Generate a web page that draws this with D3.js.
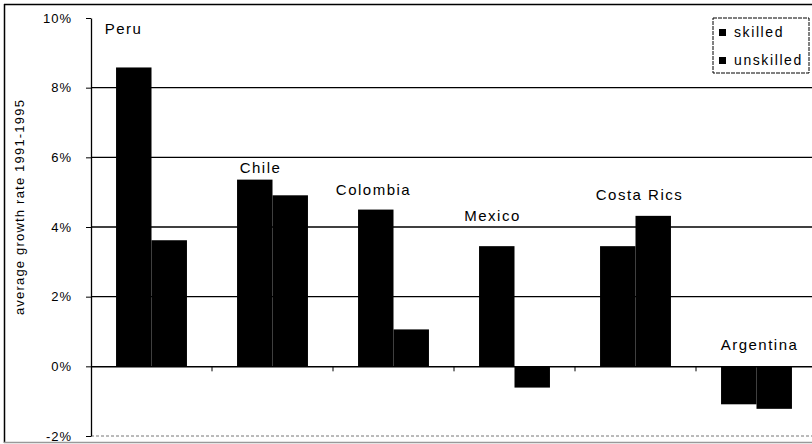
<!DOCTYPE html>
<html>
<head>
<meta charset="utf-8">
<script src="https://cdn.jsdelivr.net/npm/d3@7"></script>
<style>
  body { margin: 0; background: #fff; }
  svg { display: block; font-family: "Liberation Sans", Arial, sans-serif; }
  .axis path, .axis line { stroke: #000; }
  .axis text { fill: #000; font-size: 13px; letter-spacing: 1px; }
</style>
</head>
<body>
<svg id="chart"></svg>
<script>
// data (percent)
const categories = ["Peru", "Chile", "Colombia", "Mexico", "Costa Rics", "Argentina"];
const skilled = [8.58, 5.36, 4.50, 3.45, 3.45, -1.09];
const unskilled = [3.62, 4.91, 1.06, -0.61, 4.32, -1.22];
const seriesNames = ["skilled", "unskilled"];
const yTicks = [-2, 0, 2, 4, 6, 8, 10];

// where the country names sit: x offset from group centre (px), baseline in axis units
const labelDx = [-28, -12, -20, -22, 4, 3];
const labelAt = [9.54, 5.55, 4.91, 4.17, 4.77, 0.46];

const width = 812, height = 444;
const margin = {top: 18, left: 91, bottom: 8};
const plotRight = 817; // chart runs a little past the crop on the right

const svg = d3.select('#chart')
  .attr('width', width)
  .attr('height', height);

// outer frame
svg.append('line').attr('x1', 4).attr('x2', width).attr('y1', 4.5).attr('y2', 4.5)
  .attr('stroke', '#000').attr('stroke-width', 1.5);
svg.append('line').attr('x1', 4.5).attr('x2', 4.5).attr('y1', 4).attr('y2', 443)
  .attr('stroke', '#000').attr('stroke-width', 1.5);
svg.append('line').attr('x1', 4).attr('x2', width).attr('y1', 442.5).attr('y2', 442.5)
  .attr('stroke', '#999').attr('stroke-width', 1.5);

const yScale = d3.scaleLinear()
  .domain([-2, 10])
  .range([436, margin.top]);

const xScale = d3.scaleBand()
  .domain(categories)
  .range([margin.left, plotRight])
  .padding(0);

const bw = xScale.bandwidth();
const xInner = d3.scaleBand()
  .domain(seriesNames)
  .range([bw * 0.207, bw * 0.793])
  .padding(0);

// gridlines (no line at the top tick, dotted at the bottom)
svg.append('g')
  .selectAll('line')
  .data(yTicks.filter(d => d > -2 && d < 10 && d !== 0))
  .join('line')
  .attr('x1', margin.left).attr('x2', plotRight)
  .attr('y1', d => yScale(d)).attr('y2', d => yScale(d))
  .attr('stroke', '#000').attr('stroke-width', 1.3);

svg.append('line')
  .attr('x1', margin.left).attr('x2', plotRight)
  .attr('y1', yScale(-2)).attr('y2', yScale(-2))
  .attr('stroke', '#777').attr('stroke-width', 1)
  .attr('stroke-dasharray', '3,2');

// bars
const rows = categories.map((c, i) => ({cat: c, vals: [skilled[i], unskilled[i]]}));

const groups = svg.append('g')
  .selectAll('g')
  .data(rows)
  .join('g')
  .attr('transform', d => `translate(${xScale(d.cat)},0)`);

groups.selectAll('rect')
  .data(d => d.vals.map((v, j) => ({key: seriesNames[j], v: v})))
  .join('rect')
  .attr('x', d => xInner(d.key))
  .attr('width', xInner.bandwidth())
  .attr('y', d => yScale(Math.max(0, d.v)))
  .attr('height', d => Math.abs(yScale(d.v) - yScale(0)))
  .attr('fill', '#000');

// zero line with category ticks
const xAxis = d3.axisBottom(xScale)
  .tickValues([])
  .tickSizeOuter(0);
svg.append('g')
  .attr('class', 'axis x-axis')
  .attr('transform', `translate(0,${yScale(0)})`)
  .call(xAxis)
  .select('path').attr('stroke-width', 1.5);

svg.append('g')
  .selectAll('line')
  .data(categories.slice(1))
  .join('line')
  .attr('x1', d => xScale(d)).attr('x2', d => xScale(d))
  .attr('y1', yScale(0)).attr('y2', yScale(0) + 5)
  .attr('stroke', '#000');

// y axis
const yAxis = d3.axisLeft(yScale)
  .tickValues(yTicks)
  .tickSize(5)
  .tickPadding(14)
  .tickSizeOuter(0)
  .tickFormat(d => d + '%');

svg.append('g')
  .attr('class', 'axis y-axis')
  .attr('transform', `translate(${margin.left},0)`)
  .call(yAxis)
  .call(g => g.select('path').attr('stroke-width', 1.3));

svg.append('text')
  .attr('transform', `translate(24,${(yScale(-2) + yScale(10)) / 2 - 20}) rotate(-90)`)
  .attr('text-anchor', 'middle')
  .style('font-size', '13px')
  .style('letter-spacing', '1.2px')
  .attr('fill', '#000')
  .text('average growth rate 1991-1995');

// country names
svg.append('g')
  .selectAll('text')
  .data(categories)
  .join('text')
  .attr('x', (d, i) => xScale(d) + bw / 2 + labelDx[i])
  .attr('y', (d, i) => yScale(labelAt[i]))
  .attr('text-anchor', 'middle')
  .style('font-size', '15px')
  .style('letter-spacing', '1.5px')
  .attr('fill', '#000')
  .text(d => d);

// legend
const legend = svg.append('g').attr('transform', 'translate(713,18)');
legend.append('rect')
  .attr('width', 96).attr('height', 55)
  .attr('fill', '#fff')
  .attr('stroke', '#000')
  .attr('stroke-dasharray', '4,1');

const items = legend.selectAll('g.item')
  .data(seriesNames)
  .join('g')
  .attr('class', 'item')
  .attr('transform', (d, i) => `translate(6,${11 + i * 28})`);

items.append('rect')
  .attr('width', 7).attr('height', 7)
  .attr('fill', '#000');

items.append('text')
  .attr('x', 15)
  .attr('y', 8)
  .style('font-size', '14px')
  .style('letter-spacing', '1.6px')
  .attr('fill', '#000')
  .text(d => d);
</script>
</body>
</html>
